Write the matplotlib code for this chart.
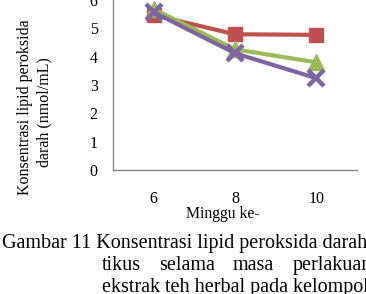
import numpy as np
import matplotlib.pyplot as plt

# data
weeks = ["6", "8", "10"]
red_vals = [5.47, 4.79, 4.77]
green_vals = [5.68, 4.26, 3.80]
purple_vals = [5.57, 4.12, 3.24]

yticks = [0, 1, 2, 3, 4, 5, 6]

plt.rcParams['font.family'] = ['Liberation Serif', 'DejaVu Serif']

W, H = 366, 294
fig = plt.figure(figsize=(W / 100, H / 100), dpi=100)
ax = fig.add_axes([113 / W, 1 - 170 / H, 244 / W, 170 / H])

x = np.arange(len(weeks))

ax.plot(x, red_vals, color='#C0504D', lw=3, marker='s', ms=9.5,
        solid_capstyle='round', zorder=3)
ax.plot(x, green_vals, color='#9BBB59', lw=3, marker='^', ms=11,
        solid_capstyle='round', zorder=4)
ax.plot(x, purple_vals, color='#8064A2', lw=3, marker='x', ms=11, mew=3.2,
        solid_capstyle='round', zorder=5)

ax.set_xlim(-0.5, 2.5)
ax.set_ylim(0, 6)
ax.set_xticks(x)
ax.set_xticklabels(weeks)
ax.set_yticks(yticks)

ax.tick_params(axis='both', length=0, labelsize=11.5)
ax.tick_params(axis='y', pad=11)
ax.tick_params(axis='x', pad=15)

for s in ['top', 'right']:
    ax.spines[s].set_visible(False)
for s in ['left', 'bottom']:
    ax.spines[s].set_color('#868686')
    ax.spines[s].set_linewidth(1.0)

# x axis title sits a little left of the middle tick
fig.text(223 / W, 1 - 218 / H, "Minggu ke-", ha='center', va='baseline',
         fontsize=11.3)
fig.text(25 / W, 1 - 107 / H, "Konsentrasi lipid peroksida",
         rotation=90, ha='center', va='center', fontsize=11.5)
fig.text(44 / W, 1 - 112 / H, "darah (nmol/mL)",
         rotation=90, ha='center', va='center', fontsize=11.5)

# caption (runs past the right edge, as in the cropped source)
cap_size = 14.5
fig.text(2 / W, 1 - 248 / H, "Gambar 11 Konsentrasi lipid peroksida darah",
         ha='left', va='baseline', fontsize=cap_size)
# justified middle line
for xp, w in [(102, "tikus"), (159, "selama"), (233, "masa"), (293, "perlakuan")]:
    fig.text(xp / W, 1 - 270 / H, w, ha='left', va='baseline', fontsize=cap_size)
fig.text(102 / W, 1 - 292 / H, "ekstrak teh herbal pada kelompok",
         ha='left', va='baseline', fontsize=cap_size)

fig.savefig("out.png", dpi=100)
